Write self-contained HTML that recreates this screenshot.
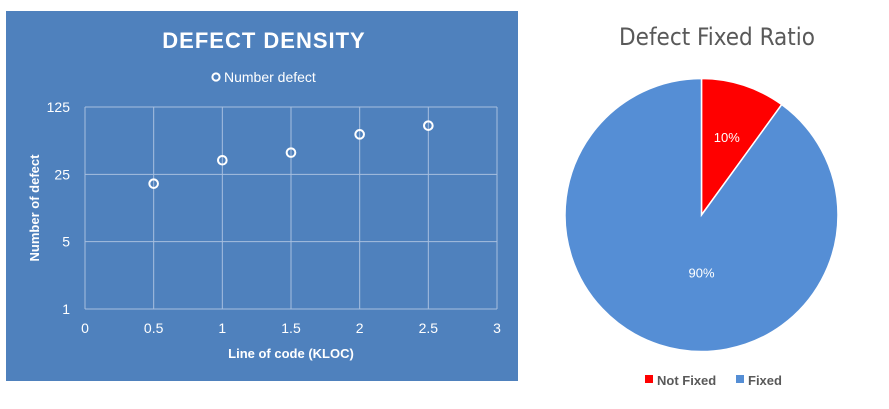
<!DOCTYPE html>
<html><head><meta charset="utf-8"><style>
body{margin:0;width:889px;height:409px;background:#fff;overflow:hidden;font-family:"Liberation Sans",sans-serif}
svg{display:block}
</style></head><body>
<svg width="889" height="409">
<rect x="6" y="11" width="512" height="370" fill="#4f81bd"/>
<text x="264" y="48" text-anchor="middle" fill="#fff" font-size="22" font-weight="bold" letter-spacing="1">DEFECT DENSITY</text>
<circle cx="216" cy="77" r="3.6" fill="none" stroke="#fff" stroke-width="2"/>
<text x="224" y="82" fill="#fff" font-size="14">Number defect</text>
<g id="grid"></g>
<g id="pts"></g>
<text transform="translate(39,208) rotate(-90)" text-anchor="middle" fill="#fff" font-size="13" font-weight="bold">Number of defect</text>
<text x="291" y="358" text-anchor="middle" fill="#fff" font-size="13" font-weight="bold">Line of code (KLOC)</text>

<text x="717" y="45" text-anchor="middle" fill="#595959" font-size="24" font-family="'DejaVu Sans Condensed','DejaVu Sans',sans-serif" font-weight="300">Defect Fixed Ratio</text>
<g id="pie"></g>
<rect x="645" y="375" width="8" height="8" fill="#ff0000"/>
<text x="657" y="385" fill="#595959" font-size="13" font-weight="bold">Not Fixed</text>
<rect x="736" y="375" width="8" height="8" fill="#558ed5"/>
<text x="748" y="385" fill="#595959" font-size="13" font-weight="bold">Fixed</text>
</svg>
<script>
const xTicks=[0,0.5,1,1.5,2,2.5,3];
const yTicks=[1,5,25,125];
const xValues=[0.5,1,1.5,2,2.5];
const yValues=[20,35,42,65,80];
const pieLabels=["Not Fixed","Fixed"];
const pieValues=[10,90];
const pieColors=["#ff0000","#558ed5"];
const NS="http://www.w3.org/2000/svg";
const X0=85,X1=497,Y0=309,Y1=107;
const sx=v=>X0+(v-0)/(3-0)*(X1-X0);
const sy=v=>Y0-(Math.log(v)/Math.log(5))/3*(Y0-Y1);
function mk(t,a,p){const e=document.createElementNS(NS,t);for(const k in a)e.setAttribute(k,a[k]);p.appendChild(e);return e;}
const g=document.getElementById('grid');
xTicks.forEach(t=>{
 const l=mk('line',{x1:sx(t),x2:sx(t),y1:Y1,y2:Y0,stroke:'#a7bfdf','stroke-width':1},g);
 
 
 const tx=mk('text',{x:sx(t),y:333,'text-anchor':'middle',fill:'#fff','font-size':14},g);tx.textContent=t;
 
 
});
yTicks.forEach(t=>{
 const l=mk('line',{x1:X0,x2:X1,y1:sy(t),y2:sy(t),stroke:'#a7bfdf','stroke-width':1},g);
 
 
 const tx=mk('text',{x:70,y:sy(t)+5,'text-anchor':'end',fill:'#fff','font-size':14},g);tx.textContent=t;
 
 
});
const pg=document.getElementById('pts');
xValues.forEach((x,i)=>{
 const c=mk('circle',{cx:sx(x),cy:sy(yValues[i]),r:4.3,fill:'none',stroke:'#fff','stroke-width':2},pg);
 
 
});
const pie=document.getElementById('pie');
const cx=701.5,cy=215,r=136.5;
const tot=pieValues.reduce((a,b)=>a+b,0);
let a0=0;
pieValues.forEach((v,i)=>{
 const a1=a0+v/tot*2*Math.PI;
 const p=(a)=>[cx+r*Math.sin(a),cy-r*Math.cos(a)];
 const [x0,y0]=p(a0),[x1,y1]=p(a1);
 const large=(a1-a0)>Math.PI?1:0;
 const s=mk('path',{d:`M${cx},${cy}L${x0},${y0}A${r},${r} 0 ${large} 1 ${x1},${y1}Z`,fill:pieColors[i],stroke:'#fff','stroke-width':1.5},pie);
 
 
 let am=(a0+a1)/2,lr=r*0.6;
 if(large){am=Math.PI;lr=r*0.42;}
 const t=mk('text',{x:cx+lr*Math.sin(am),y:cy-lr*Math.cos(am)+5,'text-anchor':'middle',fill:'#fff','font-size':13},pie);
 t.textContent=Math.round(v/tot*100)+'%';
 
 
 a0=a1;
});
</script>
</body></html>
